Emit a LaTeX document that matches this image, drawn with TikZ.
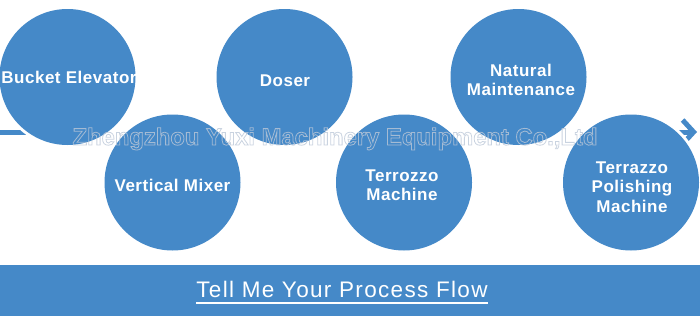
\documentclass[tikz,border=0pt]{standalone}
\usepackage{fontspec}
\setmainfont{Liberation Sans}
\newfontfamily\circfont[LetterSpace=3]{Liberation Sans}
\newfontfamily\barfont[LetterSpace=6]{Liberation Sans}
\usetikzlibrary{arrows.meta,calc}
\definecolor{flowblue}{HTML}{4589C8}
\definecolor{wmline}{HTML}{BCC8D8}
\begin{document}
\begin{tikzpicture}[x=1pt,y=-1pt,
  stephalo/.style={circle, fill=white, minimum size=142pt, inner sep=0pt},
  stepcircle/.style={circle, fill=flowblue, minimum size=136pt, inner sep=0pt},
  steptext/.style={text=white, align=center, inner sep=0pt,
    font=\circfont\bfseries\fontsize{17}{19.5}\selectfont},
  wmtext/.style={inner sep=0pt, anchor=base,
    font=\bfseries\fontsize{23.8}{26}\selectfont}]
\useasboundingbox (0,0) rectangle (700,316);
% flow line (seen only at its two ends)
\coordinate (ls) at (0,132);
\coordinate (le) at (697,132);
\begin{scope}
  \clip (0,100) rectangle (32,165) (674,100) rectangle (700,165);
  \draw[flowblue, line width=5pt, -{Straight Barb[length=11pt,width=24pt]}] (ls) -- (le);
\end{scope}
% circle positions
\coordinate (p1) at (67.5,77);
\coordinate (p2) at (172.5,182.5);
\coordinate (p3) at (284.5,77);
\coordinate (p4) at (404,182.5);
\coordinate (p5) at (518.5,77);
\coordinate (p6) at (631,182.5);
% white halos
\foreach \i in {1,...,6} \node[stephalo] (h\i) at (p\i) {};
% circles
\foreach \i in {1,...,6} \node[stepcircle] (c\i) at (p\i) {};
% texts
\node[steptext] (t1) at (69,77.5) {Bucket Elevator};
\node[steptext] (t2) at (172.5,185) {Vertical Mixer};
\node[steptext] (t3) at (285,81) {Doser};
\node[steptext] (t4) at (402,185) {Terrozzo\\Machine};
\node[steptext] (t5) at (521,80) {Natural\\Maintenance};
\node[steptext] (t6) at (632,187) {Terrazzo\\Polishing\\Machine};
% watermark (outlined text)
\coordinate (wmc) at (335,145);
\begin{scope}[opacity=0.8]
  \node[wmtext, color=wmline] (wm) at (wmc)
    {\special{pdf:literal direct 1 Tr 0.8 w}Zhengzhou Yuxi Machinery Equipment Co.,Ltd\special{pdf:literal direct 0 Tr}};
\end{scope}
% bottom bar
\node[fill=flowblue, minimum width=700pt, minimum height=51pt, inner sep=0pt,
  anchor=north west] (bar) at (0,265) {};
\node[text=white, inner sep=0pt, anchor=base,
  font=\barfont\fontsize{22.5}{26}\selectfont] (tt) at (342,297) {Tell Me Your Process Flow};
\draw[white, line width=2.4pt] ($(tt.base west)+(0,6)$) -- ($(tt.base east)+(0,6)$);
\end{tikzpicture}
\end{document}
